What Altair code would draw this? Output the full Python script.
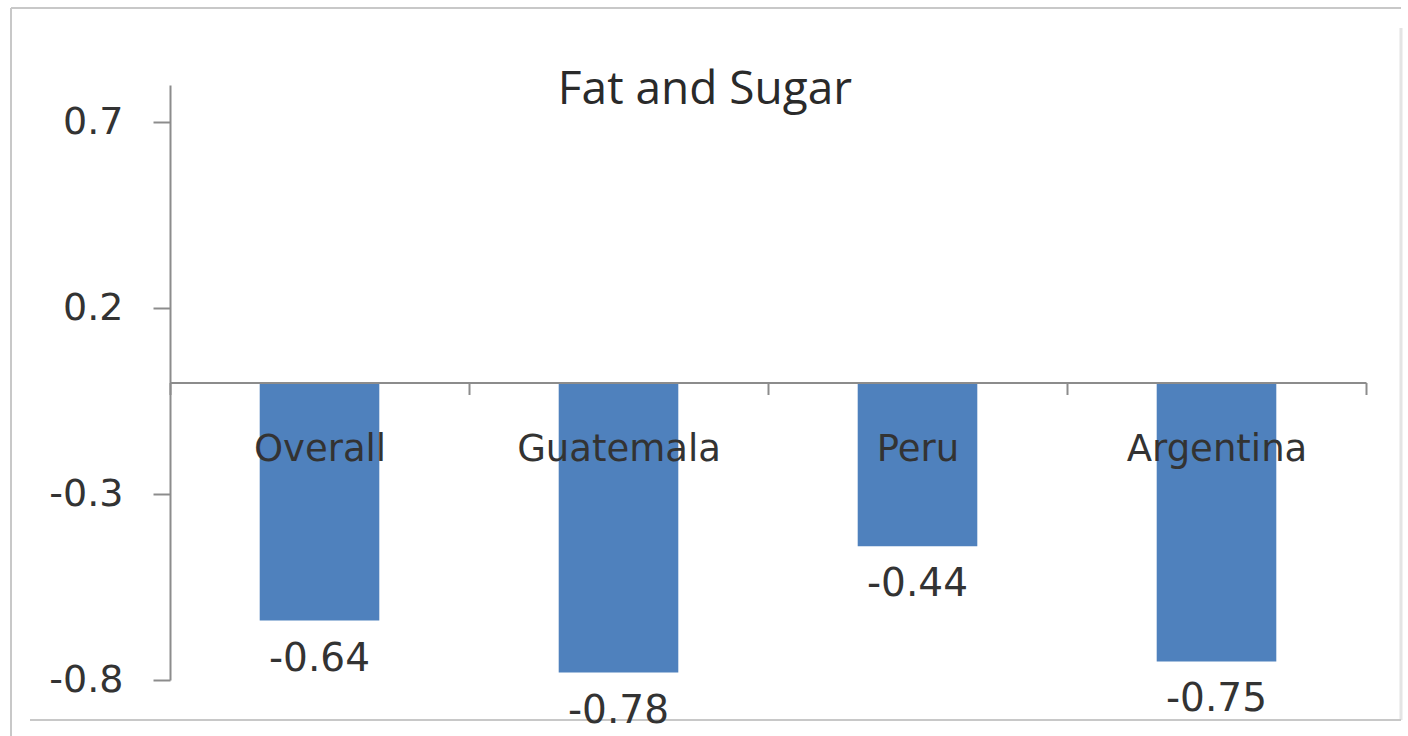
import altair as alt
import pandas as pd

categories = ["Overall", "Guatemala", "Peru", "Argentina"]
values = [-0.64, -0.78, -0.44, -0.75]
value_labels = ["-0.64", "-0.78", "-0.44", "-0.75"]
y_ticks = [-0.8, -0.3, 0.2, 0.7]
title_text = "Fat and Sugar"

df = pd.DataFrame({"cat": categories, "val": values, "lab": value_labels})

W, H = 1196, 595
AX = "#8c8c8c"
TXT = "#333333"
NUMFONT = "DejaVu Sans"
CATFONT = "DejaVu Sans"
TITLEFONT = "Open Sans"

x_enc = alt.X(
    "cat:N",
    sort=categories,
    scale=alt.Scale(paddingInner=0, paddingOuter=0),
    axis=alt.Axis(
        title=None,
        orient="bottom",
        offset=-297.5,
        labelAngle=0,
        labelFont=CATFONT,
        labelFontSize=37,
        labelColor=TXT,
        labelPadding=37,
        labelLimit=500,
        tickBand="extent",
        tickSize=12,
        tickColor=AX,
        tickWidth=2,
        domainColor=AX,
        domainWidth=2,
        zindex=2,
    ),
)

y_scale = alt.Scale(domain=[-0.8, 0.8], nice=False, zero=False)

bars = alt.Chart(df).mark_bar(color="#4f81bd", width=alt.RelativeBandSize(0.4)).encode(
    x=x_enc,
    y=alt.Y(
        "val:Q",
        scale=y_scale,
        axis=alt.Axis(
            title=None,
            values=y_ticks,
            labelExpr="replace(format(datum.value, '.1f'), '\u2212', '-')",
            grid=False,
            labelFont=NUMFONT,
            labelFontSize=38,
            labelColor=TXT,
            labelPadding=30,
            tickSize=17,
            tickColor=AX,
            tickWidth=2,
            domainColor=AX,
            domainWidth=2,
        ),
    ),
)

labels = alt.Chart(df).mark_text(
    font=NUMFONT, fontSize=39, color=TXT, baseline="middle", dy=38
).encode(
    x=alt.X("cat:N", sort=categories),
    y=alt.Y("val:Q", scale=y_scale),
    text="lab:N",
)

title = alt.Chart(pd.DataFrame({"t": [title_text]})).mark_text(
    font=TITLEFONT, fontSize=46, color="#2a2a2a", baseline="middle", align="center"
).encode(x=alt.value(535), y=alt.value(5), text="t:N")

frame_col = "#c8c8c8"
frame = [
    alt.Chart(pd.DataFrame({"a": [0]})).mark_rule(color=frame_col, strokeWidth=2).encode(
        x=alt.value(-159), x2=alt.value(1231), y=alt.value(-77)
    ),
    alt.Chart(pd.DataFrame({"a": [0]})).mark_rule(color=frame_col, strokeWidth=2).encode(
        x=alt.value(-159), y=alt.value(-77), y2=alt.value(651)
    ),
    alt.Chart(pd.DataFrame({"a": [0]})).mark_rule(color="#e4e4e4", strokeWidth=3).encode(
        x=alt.value(1231), y=alt.value(-57), y2=alt.value(635)
    ),
    alt.Chart(pd.DataFrame({"a": [0]})).mark_rule(color=frame_col, strokeWidth=2).encode(
        x=alt.value(-140), x2=alt.value(1231), y=alt.value(635)
    ),
]

chart = alt.layer(*frame, bars, labels, title).properties(
    width=W,
    height=H,
    autosize=alt.AutoSizeParams(type="none"),
    padding={"left": 170, "top": 85, "right": 42, "bottom": 56},
    background="white",
).configure_view(stroke=None)

chart.save("out.html", embed_options={"renderer": "svg", "actions": False})
